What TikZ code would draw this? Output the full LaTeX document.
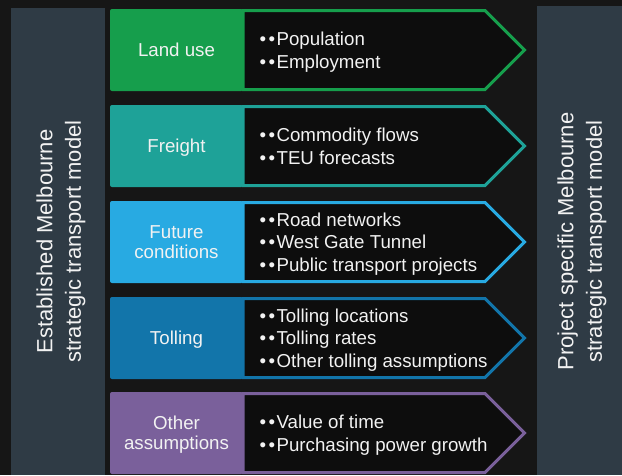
\documentclass[tikz,border=0pt]{standalone}
\usepackage{xcolor}
\usepackage{fontspec}
\setmainfont{Liberation Sans}
\definecolor{backdrop}{RGB}{22,22,22}
\definecolor{barslate}{RGB}{47,59,69}
\definecolor{chevfill}{RGB}{13,13,13}
\definecolor{txt}{RGB}{242,242,242}
\definecolor{landgreen}{RGB}{22,158,76}
\definecolor{freightteal}{RGB}{30,162,152}
\definecolor{futureblue}{RGB}{40,170,226}
\definecolor{tollblue}{RGB}{18,117,170}
\definecolor{otherpurple}{RGB}{122,96,155}
\newcommand{\bb}{•\kern2.5pt•\kern1.3pt}

\begin{document}
\begin{tikzpicture}[x=1pt,y=-1pt,
	head/.style={text=txt,font=\fontsize{18.7}{20}\selectfont,align=center,text depth=0pt},
	items/.style={text=txt,font=\fontsize{18.7}{22.5}\selectfont,align=left,anchor=west,inner sep=0pt,text depth=0pt},
	chev/.style={line width=3pt,fill=chevfill,line join=miter},
	side/.style={text=txt,font=\fontsize{22}{28.5}\selectfont,align=center,rotate=90}]
		\fill[backdrop](0,0)rectangle(622,475);
		\useasboundingbox(0,0)rectangle(622,475);
		\fill[barslate](11,8)rectangle(105,475);
		\fill[barslate](537,6)rectangle(622,475);
		\node[side](established)at(61,241.5){Established Melbourne\\strategic transport model};
		\node[side](specific)at(582,241.5){Project specific Melbourne\\strategic transport model};
		% chevrons
		\draw[chev,draw=landgreen](243,10.5)--(485,10.5)--(524.5,50)--(485,89.5)--(243,89.5)--cycle;
		\draw[chev,draw=freightteal](243,106.5)--(485,106.5)--(524.5,146)--(485,185.5)--(243,185.5)--cycle;
		\draw[chev,draw=futureblue](243,202.5)--(485,202.5)--(524.5,242)--(485,281.5)--(243,281.5)--cycle;
		\draw[chev,draw=tollblue](243,298.5)--(485,298.5)--(524.5,338)--(485,377.5)--(243,377.5)--cycle;
		\draw[chev,draw=otherpurple](243,393.5)--(485,393.5)--(524.5,433)--(485,472.5)--(243,472.5)--cycle;
		% input boxes
		\fill[landgreen,rounded corners=2pt](110,9)rectangle(243,91);
		\fill[freightteal,rounded corners=2pt](110,105)rectangle(243,187);
		\fill[futureblue,rounded corners=2pt](110,201)rectangle(243,283);
		\fill[tollblue,rounded corners=2pt](110,297)rectangle(243,379);
		\fill[otherpurple,rounded corners=2pt](110,392)rectangle(243,474);
		\node[head](landuse)at(176.5,50){Land use};
		\node[head](freight)at(176.5,146){Freight};
		\node[head](future)at(176.5,242){Future\\conditions};
		\node[head](tolling)at(176.5,338){Tolling};
		\node[head](other)at(176.5,433){Other\\assumptions};
		\node[items](landlist)at(259.5,50){\bb Population\\\bb Employment};
		\node[items](freightlist)at(259.5,146){\bb Commodity flows\\\bb TEU forecasts};
		\node[items](futurelist)at(259.5,242){\bb Road networks\\\bb West Gate Tunnel\\\bb Public transport projects};
		\node[items](tollinglist)at(259.5,338){\bb Tolling locations\\\bb Tolling rates\\\bb Other tolling assumptions};
		\node[items](otherlist)at(259.5,433){\bb Value of time\\\bb Purchasing power growth};
\end{tikzpicture}
\end{document}
